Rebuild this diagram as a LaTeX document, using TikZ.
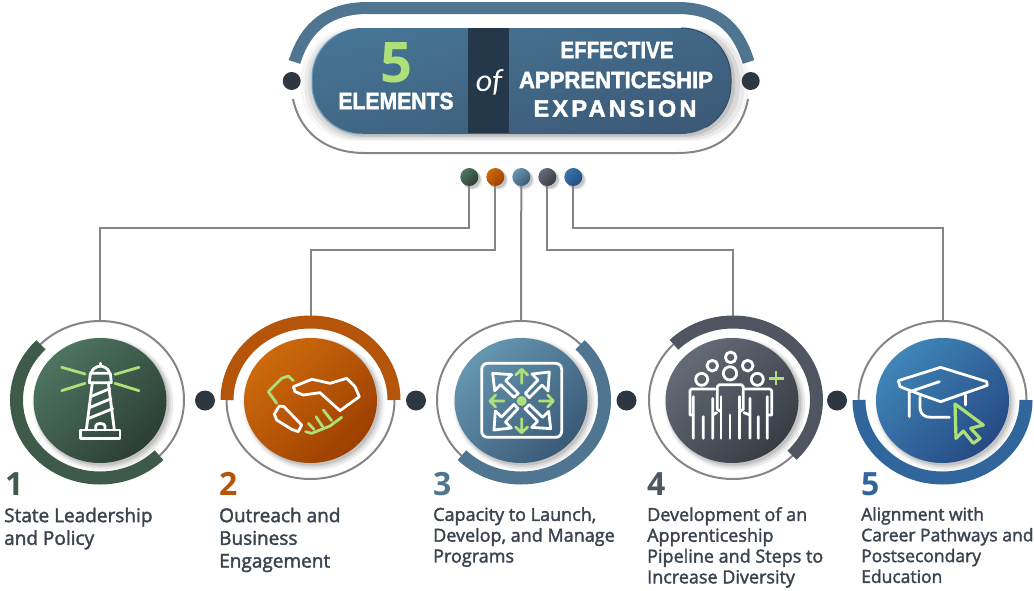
\documentclass[tikz,border=0pt]{standalone}
\usepackage{fontspec}
\setmainfont{Open Sans}[FakeBold=2]
\newfontfamily\headfont{Liberation Sans}[FakeBold=2]
\newfontfamily\digitfont{Open Sans}
\newfontfamily\ofont{Carlito}
\newfontfamily\spacedfont{Liberation Sans}[LetterSpace=14, FakeBold=2]
\usepackage{xcolor}
\usetikzlibrary{
  positioning,
  calc,
  shapes.geometric,
  shadows
}
\definecolor{leafdark}{HTML}{3E5A48}
\definecolor{rustdark}{HTML}{B45509}
\definecolor{steeldark}{HTML}{507590}
\definecolor{slatedark}{HTML}{4F5661}
\definecolor{navydark}{HTML}{30669B}
\definecolor{inkdot}{HTML}{2C3742}
\definecolor{wiregray}{HTML}{858585}
\definecolor{limeicon}{HTML}{AEE07A}
\definecolor{labelink}{HTML}{3A4450}
\definecolor{barink}{HTML}{24384A}
\definecolor{pilltop}{HTML}{467494}
\definecolor{pillbottom}{HTML}{3C5A77}
\definecolor{pilllight}{HTML}{6FA3C4}
\definecolor{pillshade}{HTML}{2F4A63}
\definecolor{leaftop}{HTML}{4E7461}
\definecolor{leafbottom}{HTML}{2C3E34}
\definecolor{rusttop}{HTML}{CE6A0C}
\definecolor{rustbottom}{HTML}{9C3F00}
\definecolor{steeltop}{HTML}{6596B0}
\definecolor{steelbottom}{HTML}{3A5A77}
\definecolor{slatetop}{HTML}{646B76}
\definecolor{slatebottom}{HTML}{383C45}
\definecolor{navytop}{HTML}{3F86B8}
\definecolor{navybottom}{HTML}{264A84}

\begin{document}
\begin{tikzpicture}[
      x=1pt, y=1pt,
      softshadow/.style={
        general shadow={shadow xshift=3pt, shadow yshift=-3pt, shadow scale=1.07, fill=black, opacity=.03},
        general shadow={shadow xshift=3pt, shadow yshift=-3pt, shadow scale=1.05, fill=black, opacity=.05},
        general shadow={shadow xshift=2.5pt, shadow yshift=-2.5pt, shadow scale=1.03, fill=black, opacity=.07},
        general shadow={shadow xshift=2pt, shadow yshift=-2pt, shadow scale=1.01, fill=black, opacity=.1}},
      ringnode/.style={ellipse, draw=wiregray, line width=2pt, minimum width=168, minimum height=158, inner sep=0, outer sep=0},
      disc/.style={ellipse, softshadow, minimum width=133, minimum height=125, inner sep=0, outer sep=0},
      pindot/.style={circle, softshadow, minimum size=18, inner sep=0, outer sep=0},
      linkdot/.style={circle, fill=inkdot, minimum size=20, inner sep=0, outer sep=0},
      wire/.style={draw=wiregray, line width=2pt},
      band/.style={line width=13pt},
      numeral/.style={anchor=west, inner sep=0, font=\digitfont\bfseries\fontsize{32}{32}\selectfont},
      caption/.style={anchor=north west, inner sep=0, align=left, text=labelink},
      headline/.style={text=white, inner sep=0, font=\headfont\bfseries\fontsize{23.5}{23.5}\selectfont},
      iconline/.style={draw=white, line width=2.8pt, line join=round, line cap=round},
      iconlime/.style={draw=limeicon, line width=2.8pt, line join=round, line cap=round}
    ]
      \useasboundingbox (0,0) rectangle (1034,-590);

      % Title
      \draw[line width=12pt, steeldark] (294.5,-62) .. controls (306,-25) and (330,-8) .. (368,-8) -- (677,-8) .. controls (715,-8) and (737,-25) .. (748.5,-62);
      \draw[line width=2pt, wiregray] (293,-99) .. controls (300,-132) and (325,-153) .. (365,-153) -- (678,-153) .. controls (718,-153) and (742,-132) .. (748,-99);
      \node[softshadow, top color=pilltop, bottom color=pillbottom, shading angle=15, minimum width=419, minimum height=106, rounded corners=50, inner sep=0, outer sep=0] (pill) at (521.5,-81) {};
      \draw[line width=1pt, pilllight] (362,-134) arc[start angle=270, end angle=180, radius=50] -- (312,-78) arc[start angle=180, end angle=120, radius=50];
      \draw[line width=1pt, pillshade] (681,-28) arc[start angle=90, end angle=0, radius=50] -- (731,-84) arc[start angle=0, end angle=-60, radius=50];
      \node[fill=barink, minimum width=41, minimum height=105, inner sep=0] (ofbar) at (488.5,-80.5) {};
      \node[linkdot, minimum size=18] (capL) at (291.7,-81) {};
      \node[linkdot, minimum size=18] (capR) at (750.7,-81) {};
      \node[text=limeicon, inner sep=0, font=\digitfont\bfseries\fontsize{56}{56}\selectfont] (five) at (396,-63) {5};
      \node[headline, xscale=.9] (elements) at (396,-101) {ELEMENTS};
      \node[text=white, inner sep=0, font=\ofont\itshape\fontsize{32}{32}\selectfont] (ofword) at (489,-82) {of};
      \node[headline, xscale=.875] (effective) at (617,-50) {EFFECTIVE};
      \node[headline, xscale=.94] (apprentice) at (616,-80) {APPRENTICESHIP};
      \node[headline, font=\spacedfont\bfseries\fontsize{23.5}{23.5}\selectfont] (expansion) at (615,-108.5) {EXPANSION};

      % Pins
      \node[pindot, top color=leaftop, bottom color=leafbottom, shading angle=45] (pinA) at (469.3,-177) {};
      \node[pindot, top color=rusttop, bottom color=rustbottom, shading angle=45] (pinB) at (495.3,-177) {};
      \node[pindot, top color=steeltop, bottom color=steelbottom, shading angle=45] (pinC) at (521.3,-177) {};
      \node[pindot, top color=slatetop, bottom color=slatebottom, shading angle=45] (pinD) at (547.3,-177) {};
      \node[pindot, top color=navytop!50!navydark, bottom color=navybottom, shading angle=45] (pinE) at (573.3,-177) {};

      % Rings
      \node[ringnode] (ringA) at (100,-400) {};
      \node[ringnode] (ringB) at (310.5,-400) {};
      \node[ringnode] (ringC) at (521,-400) {};
      \node[ringnode] (ringD) at (733,-400) {};
      \node[ringnode] (ringE) at (942.5,-400) {};

      % Wires
      \draw[wire] (pinA.south) -- ++(0,-42) -| (ringA.north);
      \draw[wire] (pinB.south) -- ++(0,-64) -| (ringB.north);
      \draw[wire] (pinC.south) -- (ringC.north);
      \draw[wire] (pinD.south) -- ++(0,-64) -| (ringD.north);
      \draw[wire] (pinE.south) -- ++(0,-42) -| (ringE.north);

      % Bands
      \draw[band, leafdark] (100,-400) ++(135:83.5 and 78) arc[start angle=135, end angle=315, x radius=83.5, y radius=78];
      \draw[band, rustdark] (310.5,-400) ++(0:83.5 and 78) arc[start angle=0, end angle=180, x radius=83.5, y radius=78];
      \draw[band, steeldark] (521,-400) ++(45:83.5 and 78) arc[start angle=45, end angle=-135, x radius=83.5, y radius=78];
      \draw[band, slatedark] (733,-400) ++(135:83.5 and 78) arc[start angle=135, end angle=-45, x radius=83.5, y radius=78];
      \draw[band, navydark] (942.5,-400) ++(180:83.5 and 78) arc[start angle=180, end angle=360, x radius=83.5, y radius=78];

      % Discs
      \node[disc, top color=leaftop, bottom color=leafbottom, shading angle=45] (discA) at (100,-400.5) {};
      \node[disc, top color=rusttop, bottom color=rustbottom, shading angle=45] (discB) at (310.5,-400.5) {};
      \node[disc, top color=steeltop, bottom color=steelbottom, shading angle=45] (discC) at (521,-400.5) {};
      \node[disc, top color=slatetop, bottom color=slatebottom, shading angle=45] (discD) at (732,-400.5) {};
      \node[disc, top color=navytop, bottom color=navybottom, shading angle=45] (discE) at (942.5,-400.5) {};

      % Link dots
      \node[linkdot] (linkA) at (205,-400.5) {};
      \node[linkdot] (linkB) at (416,-400.5) {};
      \node[linkdot] (linkC) at (626.5,-400.5) {};
      \node[linkdot] (linkD) at (837,-400.5) {};

      % Lighthouse
      \begin{scope}[shift={(30,-340)}, x=1/3*1pt, y=-1/3*1pt]
        \draw[iconlime] (95,82) -- (165,102) (327,82) -- (255,103) (95,152) -- (165,130) (327,152) -- (255,130);
        \draw[iconline] (152,270) rectangle (270,295);
        \draw[iconline] (197,270) -- (197,258) .. controls (197,248) and (225,248) .. (225,258) -- (225,270);
        \draw[iconline] (187,128) -- (169,270) (235,128) -- (253,270);
        \draw[iconline] (178,128) -- (244,128) -- (241,100) -- (181,100) -- cycle;
        \draw[iconline] (183,100) .. controls (187,84) and (200,80) .. (211,78) .. controls (222,80) and (235,84) .. (239,100);
        \draw[iconline] (211,78) -- (211,70);
        \draw[iconline] (182,170) -- (239,146) (178,203) -- (243,176) (174,236) -- (248,206);
      \end{scope}

      % Handshake
      \begin{scope}[shift={(240,-340)}, x=1/3*1pt, y=-1/3*1pt]
        \draw[iconline] (160,140) -- (215,118) -- (235,122) -- (270,130) -- (320,115) -- (345,140) -- (358,170) -- (300,212) -- (240,158) -- (190,165) -- (165,155) -- cycle;
        \draw[iconline] (118,198) -- (132,200) -- (185,255) -- (175,275) -- (155,268) -- (110,240) -- (103,222) -- cycle;
        \draw[iconlime] (160,122) -- (145,108) -- (125,115) -- (85,155) -- (110,190);
        \draw[iconlime] (197,275) -- (215,280) -- (270,258) -- (305,232);
        \draw[iconlime] (205,250) -- (222,268) (228,230) -- (248,260) (250,210) -- (275,242);
      \end{scope}

      % Arrows box
      \begin{scope}[shift={(450,-340)}, x=1/3*1pt, y=-1/3*1pt]
        \draw[iconline, rounded corners=6pt] (95,70) rectangle (335,292);
        \fill[limeicon] (215,183) circle[radius=15];
        \foreach \turn in {0,90,180,270} {
          \draw[iconline, rotate around={\turn:(215,183)}] (128,100) -- (185,104) -- (167,122) -- (205,160) -- (192,172) -- (152,134) -- (134,152) -- cycle;
          \draw[iconlime, rotate around={\turn:(215,183)}] (215,130) -- (215,88) (197,105) -- (215,88) -- (233,105);
        }
      \end{scope}

      % People
      \begin{scope}[shift={(660,-340)}, x=1/3*1pt, y=-1/3*1pt]
        \draw[iconline] (212,52) circle[radius=16] (157,77) circle[radius=16] (263,77) circle[radius=16];
        \draw[iconline] (125,118) circle[radius=18] (292,118) circle[radius=18] (210,100) circle[radius=20];
        \draw[iconline] (165,147) -- (95,147) -- (90,152) -- (90,225) -- (100,225);
        \draw[iconline] (100,170) -- (100,295) (130,230) -- (130,295) (158,175) -- (158,295) (158,225) -- (170,218);
        \draw[iconline] (183,215) -- (172,208) -- (172,140) -- (178,134) -- (244,134) -- (250,140) -- (250,208) -- (238,215);
        \draw[iconline] (183,170) -- (183,295) (210,225) -- (210,295) (238,170) -- (238,295);
        \draw[iconline] (255,147) -- (330,147) -- (335,152) -- (335,225) -- (322,225);
        \draw[iconline] (322,170) -- (322,295) (295,230) -- (295,295) (270,175) -- (270,295) (270,225) -- (252,218);
        \draw[iconlime, line cap=butt] (326,115) -- (371,115) (348,94) -- (348,136);
      \end{scope}

      % Cap and cursor
      \begin{scope}[shift={(870,-340)}, x=1/3*1pt, y=-1/3*1pt]
        \draw[iconline] (85,122) -- (212,82) -- (350,125) -- (352,136) -- (212,185) -- (150,163) -- (90,140) -- cycle;
        \draw[iconline] (120,155) -- (208,125) (118,155) -- (118,230);
        \draw[iconline] (150,170) -- (150,205) .. controls (152,225) and (165,232) .. (185,232) -- (238,232);
        \draw[iconline] (287,165) -- (287,195);
        \draw[iconlime, line width=3.2pt] (255,192) -- (340,255) -- (302,265) -- (330,295) -- (310,310) -- (280,273) -- (258,295) -- cycle;
      \end{scope}

      % Numbers
      \node[numeral, text=leafdark] (numA) at (5,-484) {1};
      \node[numeral, text=rustdark] (numB) at (219,-484) {2};
      \node[numeral, text=steeldark] (numC) at (433,-484) {3};
      \node[numeral, text=slatedark] (numD) at (647,-484) {4};
      \node[numeral, text=navydark] (numE) at (861,-484) {5};

      % Captions
      \node[caption, font=\fontsize{19}{22.7}\selectfont] (capA) at (4,-507.5) {State Leadership\\and Policy};
      \node[caption, font=\fontsize{19}{22.7}\selectfont] (capB) at (219,-507.5) {Outreach and\\Business\\Engagement};
      \node[caption, font=\fontsize{18}{20.8}\selectfont] (capC) at (433,-507) {Capacity to Launch,\\Develop, and Manage\\Programs};
      \node[caption, font=\fontsize{18}{20.8}\selectfont] (capD) at (647,-507) {Development of an\\Apprenticeship\\Pipeline and Steps to\\Increase Diversity};
      \node[caption, font=\fontsize{17.5}{20.8}\selectfont] (capE) at (861,-507) {Alignment with\\Career Pathways and\\Postsecondary\\Education};
    \end{tikzpicture}
\end{document}
